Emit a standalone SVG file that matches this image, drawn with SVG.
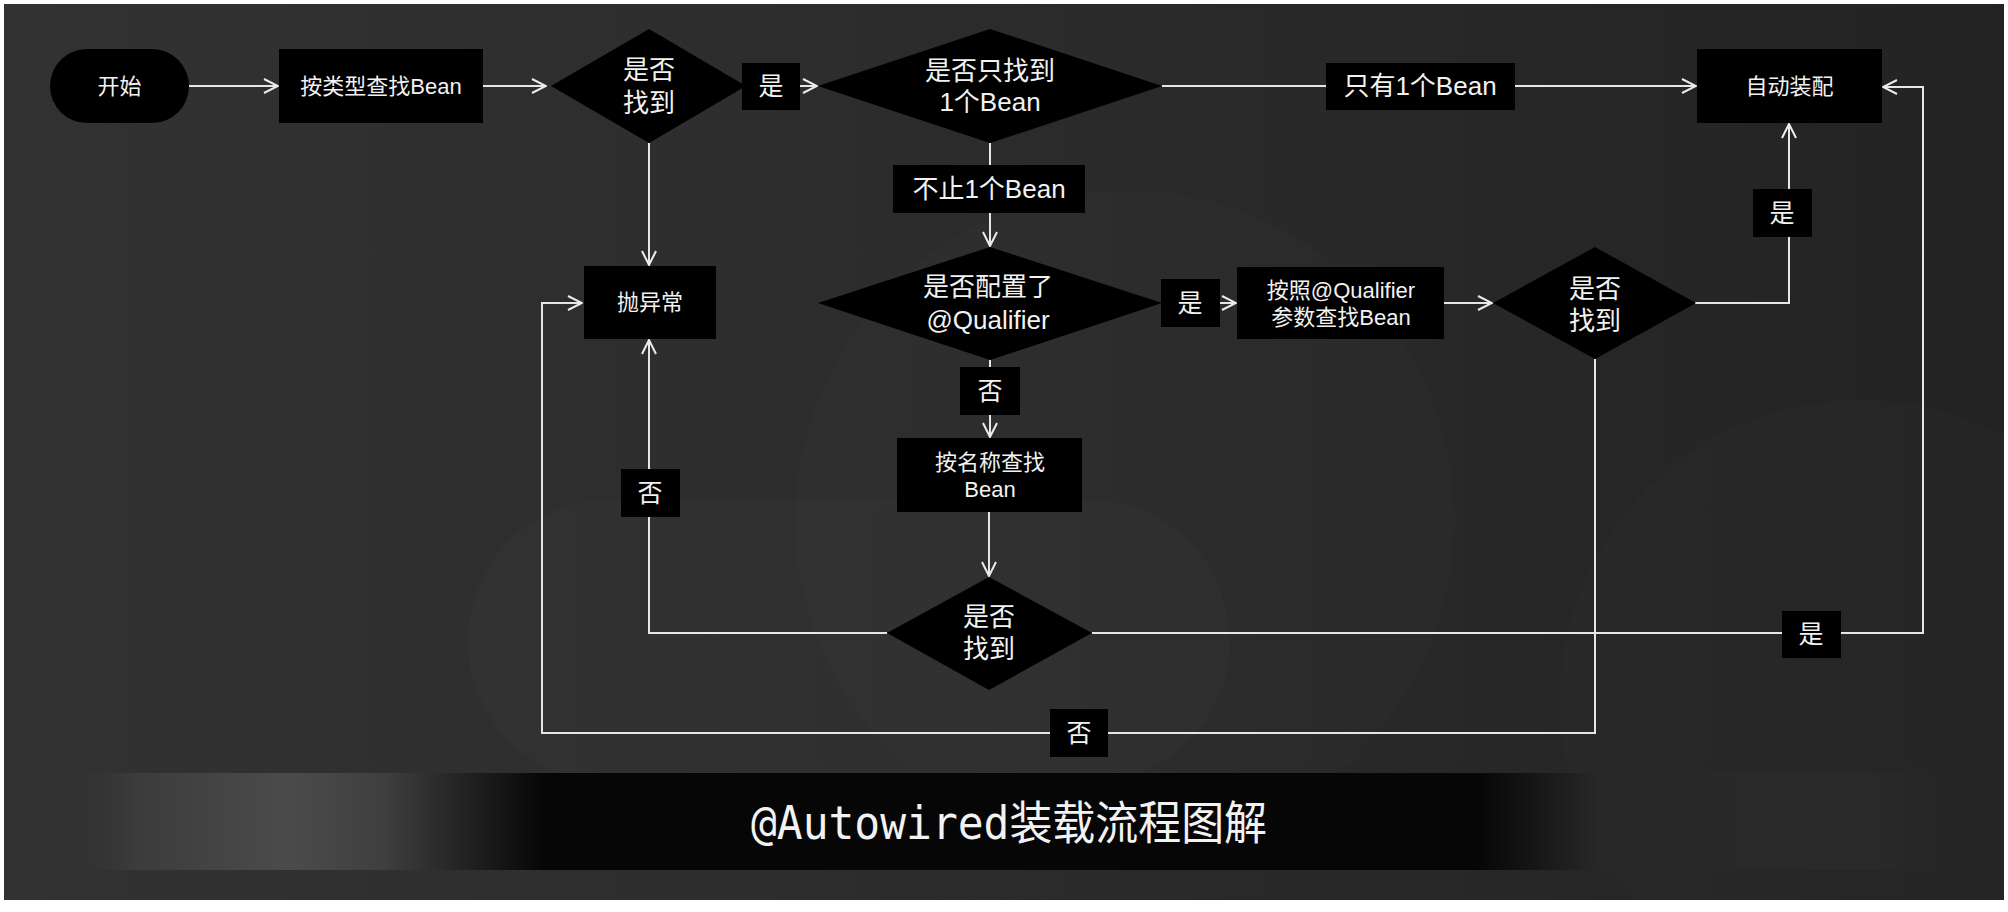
<svg xmlns="http://www.w3.org/2000/svg" width="2008" height="912" viewBox="0 0 2008 912">
  <defs>
    <linearGradient id="bg" x1="0" y1="0" x2="1" y2="0">
      <stop offset="0" stop-color="#323232"/>
      <stop offset="0.45" stop-color="#2c2c2c"/>
      <stop offset="1" stop-color="#232323"/>
    </linearGradient>
    <linearGradient id="banner" gradientUnits="userSpaceOnUse" x1="60" y1="0" x2="1960" y2="0">
      <stop offset="0" stop-color="#303030" stop-opacity="0"/>
      <stop offset="0.04" stop-color="#3c3c3c"/>
      <stop offset="0.12" stop-color="#4b4b4b"/>
      <stop offset="0.17" stop-color="#3f3f3f"/>
      <stop offset="0.255" stop-color="#060606"/>
      <stop offset="0.745" stop-color="#060606"/>
      <stop offset="0.81" stop-color="#282828"/>
      <stop offset="0.95" stop-color="#2a2a2a"/>
      <stop offset="1" stop-color="#262626" stop-opacity="0"/>
    </linearGradient>
    <marker id="arr" viewBox="0 0 16 16" markerWidth="16" markerHeight="16" refX="15" refY="8" orient="auto" markerUnits="userSpaceOnUse">
      <path d="M1,1 L15,8 L1,15" fill="none" stroke="#ececec" stroke-width="2"/>
    </marker>
    <style>
      .ln { fill: none; stroke: #e6e6e6; stroke-width: 2; }
      .node { fill: #000; }
      .lbl { fill: #000; }
      text { fill: #f2f2f2; font-family: "Liberation Sans", "Noto Sans CJK SC", sans-serif; text-anchor: middle; dominant-baseline: central; }
      .t22 { font-size: 22px; }
      .t26 { font-size: 26px; }
      .t25 { font-size: 25px; }
      .title { font-family: "DejaVu Sans Mono", "Noto Sans CJK SC", monospace; font-size: 46px; text-anchor: start; }
    </style>
  </defs>

  <rect x="0" y="0" width="2008" height="912" fill="#ffffff"/>
  <rect x="4" y="4" width="2000" height="896" fill="url(#bg)"/>
  <g id="bg-shapes" fill="#ffffff">
    <circle cx="1125" cy="520" r="330" opacity="0.012"/>
    <rect x="468" y="500" width="762" height="282" rx="140" opacity="0.015"/>
    <circle cx="1860" cy="700" r="300" opacity="0.01"/>
  </g>
  <rect x="50" y="773" width="1910" height="97" fill="url(#banner)"/>
  <text class="title" x="751" y="823" textLength="516" lengthAdjust="spacingAndGlyphs">@Autowired装载流程图解</text>

  <g id="connectors">
    <path class="ln" d="M189,86 H278" marker-end="url(#arr)"/>
    <path class="ln" d="M483,86 H546" marker-end="url(#arr)"/>
    <path class="ln" d="M745,86 H817" marker-end="url(#arr)"/>
    <path class="ln" d="M1162,86 H1696" marker-end="url(#arr)"/>
    <path class="ln" d="M990,143 V246" marker-end="url(#arr)"/>
    <path class="ln" d="M649,143 V265" marker-end="url(#arr)"/>
    <path class="ln" d="M1162,303 H1236" marker-end="url(#arr)"/>
    <path class="ln" d="M1444,303 H1492" marker-end="url(#arr)"/>
    <path class="ln" d="M990,360 V437" marker-end="url(#arr)"/>
    <path class="ln" d="M989,512 V576" marker-end="url(#arr)"/>
    <path class="ln" d="M1695,303 H1789 V124" marker-end="url(#arr)"/>
    <path class="ln" d="M887,633 H649 V340" marker-end="url(#arr)"/>
    <path class="ln" d="M1092,633 H1923 V87 H1883" marker-end="url(#arr)"/>
    <path class="ln" d="M1595,359 V733 H542 V303 H582" marker-end="url(#arr)"/>

    <g id="lbl-yes1"><rect class="lbl" x="742" y="63" width="58" height="47"/><text class="t25" x="771" y="86">是</text></g>
    <g id="lbl-only1"><rect class="lbl" x="1326" y="63" width="189" height="47"/><text class="t26" x="1420" y="86">只有1个Bean</text></g>
    <g id="lbl-more1"><rect class="lbl" x="893" y="165" width="192" height="48"/><text class="t26" x="989" y="189">不止1个Bean</text></g>
    <g id="lbl-yes2"><rect class="lbl" x="1161" y="279" width="59" height="48"/><text class="t25" x="1190" y="303">是</text></g>
    <g id="lbl-no1"><rect class="lbl" x="960" y="367" width="60" height="48"/><text class="t25" x="990" y="391">否</text></g>
    <g id="lbl-yes3"><rect class="lbl" x="1753" y="189" width="59" height="48"/><text class="t25" x="1782" y="213">是</text></g>
    <g id="lbl-no2"><rect class="lbl" x="621" y="469" width="59" height="48"/><text class="t25" x="650" y="493">否</text></g>
    <g id="lbl-yes4"><rect class="lbl" x="1782" y="611" width="59" height="47"/><text class="t25" x="1811" y="634">是</text></g>
    <g id="lbl-no3"><rect class="lbl" x="1050" y="709" width="58" height="48"/><text class="t25" x="1079" y="733">否</text></g>
  </g>

  <g id="start">
    <rect class="node" x="50" y="49" width="139" height="74" rx="37" ry="37"/>
    <text class="t22" x="119.5" y="86">开始</text>
  </g>
  <g id="find-by-type">
    <rect class="node" x="279" y="49" width="204" height="74"/>
    <text class="t22" x="381" y="86">按类型查找Bean</text>
  </g>
  <g id="found1">
    <polygon class="node" points="649,29 746,86 649,143 551,86"/>
    <text class="t26" x="649" y="70">是否</text>
    <text class="t26" x="649" y="103">找到</text>
  </g>
  <g id="only-one">
    <polygon class="node" points="990,29 1162,86 990,143 818,86"/>
    <text class="t26" x="990" y="71">是否只找到</text>
    <text class="t26" x="990" y="102">1个Bean</text>
  </g>
  <g id="autowire">
    <rect class="node" x="1697" y="49" width="185" height="74"/>
    <text class="t22" x="1789.5" y="86">自动装配</text>
  </g>
  <g id="throw">
    <rect class="node" x="584" y="266" width="132" height="73"/>
    <text class="t22" x="650" y="302">抛异常</text>
  </g>
  <g id="qualifier-q">
    <polygon class="node" points="990,247 1162,303 990,360 818,303"/>
    <text class="t26" x="988" y="287">是否配置了</text>
    <text class="t26" x="988" y="320">@Qualifier</text>
  </g>
  <g id="find-by-qualifier">
    <rect class="node" x="1237" y="267" width="207" height="72"/>
    <text class="t22" x="1341" y="290">按照@Qualifier</text>
    <text class="t22" x="1341" y="317">参数查找Bean</text>
  </g>
  <g id="found2">
    <polygon class="node" points="1595,247 1696,303 1595,359 1493,303"/>
    <text class="t26" x="1595" y="289">是否</text>
    <text class="t26" x="1595" y="321">找到</text>
  </g>
  <g id="find-by-name">
    <rect class="node" x="897" y="438" width="185" height="74"/>
    <text class="t22" x="990" y="462">按名称查找</text>
    <text class="t22" x="990" y="489">Bean</text>
  </g>
  <g id="found3">
    <polygon class="node" points="989,577 1092,633 989,690 887,633"/>
    <text class="t26" x="989" y="617">是否</text>
    <text class="t26" x="989" y="649">找到</text>
  </g>
</svg>
